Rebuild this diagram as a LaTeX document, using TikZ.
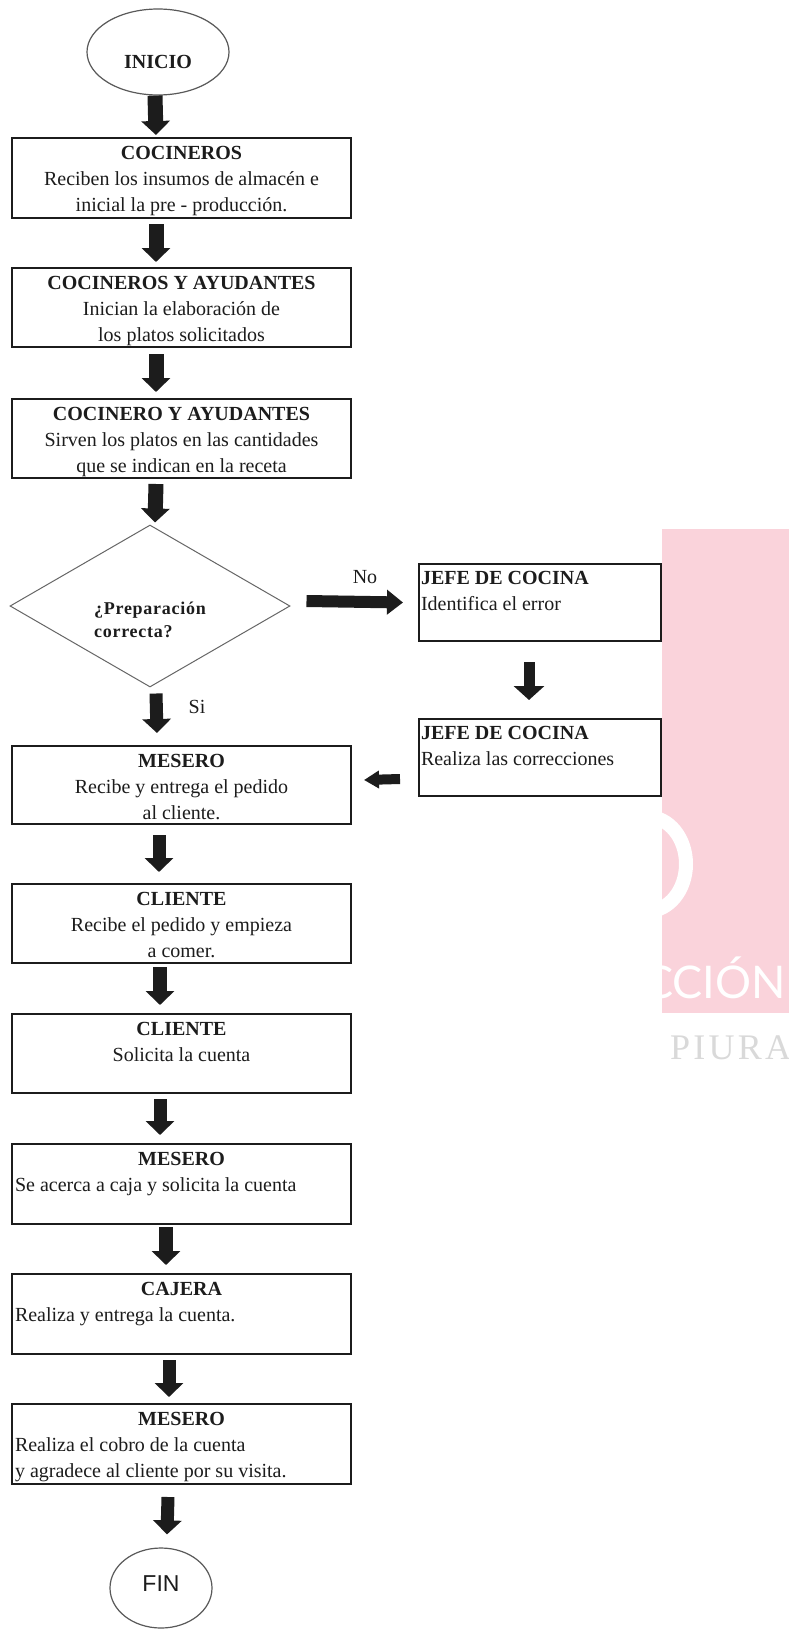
\documentclass[tikz,border=0pt]{standalone}
\usepackage{fontspec}
\setmainfont{Liberation Serif}
\newfontfamily\finsans{Liberation Sans}
\newfontfamily\wmsans{Lato}
\usetikzlibrary{arrows.meta,shapes.geometric}
\definecolor{ink}{HTML}{1C1C1C}
\definecolor{wmpink}{HTML}{FAD3DB}
\newcommand\fl{\rule{0pt}{18pt}}
\newcommand\bt[2]{\parbox[c][#1][t]{333pt}{#2}}
\newcommand\jt[1]{\parbox[c][73pt][t]{238pt}{\raggedright#1}}
\tikzset{
  stepbox/.style={draw=ink, line width=2pt, rectangle, inner sep=3pt, anchor=north west,
    font=\fontsize{20}{26}\selectfont, text=ink},
  jefebox/.style={stepbox, inner sep=2pt},
  terminal/.style={draw=black!65, line width=1.2pt, ellipse, inner sep=0pt, text=ink},
  blk/.style={draw=ink, line width=15pt, line cap=butt, -{Triangle[length=14pt,width=28pt]}},
  lbl/.style={font=\fontsize{20}{24}\selectfont, text=ink, inner sep=0pt}
}
\begin{document}
\begin{tikzpicture}[x=1pt,y=-1pt]
\useasboundingbox (0,0) rectangle (789,1630);
\fill[white] (0,0) rectangle (789,1630);
% watermark
\fill[wmpink] (662,529) rectangle (789,1013);
\begin{scope}
  \clip (662,529) rectangle (789,1013);
  \draw[white, line width=14pt] (648,864) ellipse [x radius=38pt, y radius=47pt];
  \node[white, font=\wmsans\fontsize{45}{45}\selectfont, anchor=base west, inner sep=0pt] (wmA) at (643,998) {CCIÓN};
\end{scope}
\node[text=black!15, font=\fontsize{36}{36}\selectfont\addfontfeature{LetterSpace=9}, anchor=west, inner sep=0pt] (wmB) at (670,1048) {PIURA};

% terminals
\node[terminal, minimum width=142pt, minimum height=86pt] (inicio) at (158,52)
  {\raisebox{-16pt}[0pt][0pt]{\fontsize{20}{24}\selectfont\bfseries INICIO}};
\node[terminal, minimum width=102pt, minimum height=80pt] (fin) at (161,1588)
  {\raisebox{-3pt}[0pt][0pt]{\finsans\fontsize{23}{26}\selectfont FIN}};

% left column boxes
\node[stepbox] (b1) at (11,137) {\bt{74pt}{\centering\fl\textbf{COCINEROS}\\Reciben los insumos de almacén e\\inicial la pre - producción.}};
\node[stepbox] (b2) at (11,267) {\bt{73pt}{\centering\fl\textbf{COCINEROS Y AYUDANTES}\\Inician la elaboración de\\los platos solicitados}};
\node[stepbox] (b3) at (11,398) {\bt{73pt}{\centering\fl\textbf{COCINERO Y AYUDANTES}\\Sirven los platos en las cantidades\\que se indican en la receta}};
\node[draw=black!60, line width=1pt, diamond, minimum width=280pt, minimum height=162pt, inner sep=0pt, shape aspect=1.73] (dec) at (150,606) {};
\node[font=\fontsize{18}{23}\selectfont\bfseries\addfontfeature{LetterSpace=4}, text=ink, align=left, inner sep=0pt] (dectext) at (150,620) {¿Preparación\\correcta?};
\node[stepbox] (mes1) at (11,745) {\bt{72pt}{\centering\fl\textbf{MESERO}\\Recibe y entrega el pedido\\al cliente.}};
\node[stepbox] (cli1) at (11,883) {\bt{73pt}{\centering\fl\textbf{CLIENTE}\\Recibe el pedido y empieza\\a comer.}};
\node[stepbox] (cli2) at (11,1013) {\bt{73pt}{\centering\fl\textbf{CLIENTE}\\Solicita la cuenta}};
\node[stepbox] (mes2) at (11,1143) {\bt{74pt}{{\centering\fl\textbf{MESERO}\par}\raggedright Se acerca a caja y solicita la cuenta}};
\node[stepbox] (caj) at (11,1273) {\bt{74pt}{{\centering\fl\textbf{CAJERA}\par}\raggedright Realiza y entrega la cuenta.}};
\node[stepbox] (mes3) at (11,1403) {\bt{74pt}{{\centering\fl\textbf{MESERO}\par}\raggedright Realiza el cobro de la cuenta\\y agradece al cliente por su visita.}};

% right column boxes
\node[jefebox] (j1) at (418,563) {\jt{\fl\textbf{JEFE DE COCINA}\\Identifica el error}};
\node[jefebox] (j2) at (418,718) {\jt{\fl\textbf{JEFE DE COCINA}\\Realiza las correcciones}};

% labels
\node[lbl] (no) at (365,577) {No};
\node[lbl] (si) at (197,707) {Si};

% arrows
\draw[blk] ([xshift=-3pt]inicio.south) -- ([xshift=-25.5pt,yshift=2pt]b1.north);
\draw[blk] ([xshift=-25.5pt,yshift=-5pt]b1.south) -- ([xshift=-25.5pt,yshift=5pt]b2.north);
\draw[blk] ([xshift=-25.5pt,yshift=-6pt]b2.south) -- ([xshift=-25.5pt,yshift=6pt]b3.north);
\draw[blk] ([xshift=-25.5pt,yshift=-5pt]b3.south) -- ([xshift=5pt,yshift=2pt]dec.north);
\draw[blk, line width=13pt] ([xshift=6pt,yshift=-6pt]dec.south) -- ([xshift=-24.5pt,yshift=12pt]mes1.north);
\draw[blk, line width=13pt] ([xshift=-22.5pt,yshift=-10pt]mes1.south) -- ([xshift=-22.5pt,yshift=11pt]cli1.north);
\draw[blk, line width=14pt] ([xshift=-21.5pt,yshift=-3pt]cli1.south) -- ([xshift=-21.5pt,yshift=8pt]cli2.north);
\draw[blk, line width=13pt] ([xshift=-21.5pt,yshift=-5pt]cli2.south) -- ([xshift=-21.5pt,yshift=8pt]mes2.north);
\draw[blk, line width=14pt] ([xshift=-15.5pt,yshift=-2pt]mes2.south) -- ([xshift=-15.5pt,yshift=8pt]caj.north);
\draw[blk, line width=13pt] ([xshift=-12.5pt,yshift=-5pt]caj.south) -- ([xshift=-12.5pt,yshift=6pt]mes3.north);
\draw[blk, line width=13pt] ([xshift=-13.5pt,yshift=-12pt]mes3.south) -- ([xshift=6pt,yshift=13pt]fin.north);
% No arrow
\draw[draw=ink, line width=12pt, line cap=butt, -{Triangle[length=16pt,width=24pt]}] ([xshift=16pt,yshift=5pt]dec.east) -- ([xshift=-15pt]j1.west);
% jefe down arrow
\draw[draw=ink, line width=11pt, line cap=butt, -{Triangle[length=14pt,width=30pt]}] ([xshift=-11pt,yshift=-20pt]j1.south) -- ([xshift=-11pt,yshift=18pt]j2.north);
% back arrow
\draw[draw=ink, line width=10pt, line cap=butt, -{Triangle[length=15pt,width=17pt]}] ([xshift=-18pt,yshift=-21.5pt]j2.west) -- ([xshift=12pt,yshift=5pt]mes1.east);
\end{tikzpicture}
\end{document}
